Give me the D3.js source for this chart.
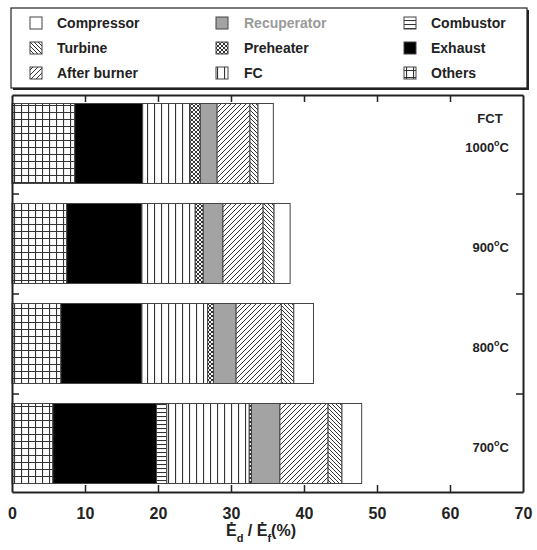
<!DOCTYPE html>
<html>
<head>
<meta charset="utf-8">
<script src="https://cdn.jsdelivr.net/npm/d3@7"></script>
<style>
  body { margin: 0; background: #fff; }
  svg { font-family: "Liberation Sans", Arial, sans-serif; font-weight: bold; }
</style>
</head>
<body>
<svg id="chart" width="537" height="550"></svg>
<script>
// temperatures (FCT), top to bottom
var temps = ["1000", "900", "800", "700"];
// components, left to right in each bar
var parts = ["Others", "Exhaust", "Combustor", "FC", "Preheater", "Recuperator", "After burner", "Turbine", "Compressor"];
// exergy destruction share, % of fuel exergy, one array per component (order of temps)
var others      = [8.6, 7.5, 6.7, 5.6];
var exhaust     = [9.3, 10.3, 11.1, 14.2];
var combustor   = [0.0, 0.0, 0.0, 1.4];
var fc          = [6.5, 7.3, 9.0, 11.3];
var preheater   = [1.4, 1.1, 0.8, 0.3];
var recuperator = [2.3, 2.7, 3.1, 3.9];
var afterburner = [4.5, 5.5, 6.2, 6.6];
var turbine     = [1.1, 1.5, 1.7, 1.9];
var compressor  = [2.1, 2.2, 2.7, 2.7];
var xTicks = [0, 10, 20, 30, 40, 50, 60, 70];

// legend order (reading across rows)
var legendItems = [
    ["Compressor", "Recuperator", "Combustor"],
    ["Turbine", "Preheater", "Exhaust"],
    ["After burner", "FC", "Others"]
];

var series = [others, exhaust, combustor, fc, preheater, recuperator, afterburner, turbine, compressor];
var table = temps.map(function (t, i) {
    var row = { temp: t };
    parts.forEach(function (p, j) { row[p] = series[j][i]; });
    return row;
});

var svg = d3.select("#chart");
var ink = "#222";

// fill patterns
var defs = svg.append("defs");
function pattern(id, size, path, width) {
    var p = defs.append("pattern")
        .attr("id", id)
        .attr("patternUnits", "userSpaceOnUse")
        .attr("width", size).attr("height", size);
    p.append("rect").attr("width", size).attr("height", size).attr("fill", "#fff");
    p.append("path").attr("d", path).attr("stroke", "#333").attr("stroke-width", width || 1).attr("fill", "none");
}
pattern("p-grid", 7, "M0,0.5H7M0.5,0V7", 1.2);
pattern("p-hlines", 4, "M0,0.5H4", 1.1);
pattern("p-vlines", 7, "M0.5,0V7", 1.2);
pattern("p-check", 4, "M0,0L4,4M4,0L0,4", 1);
pattern("p-fwd", 5, "M0,5L5,0M-1,1L1,-1M4,6L6,4", 1);
pattern("p-back", 4, "M0,0L4,4M-1,3L1,5M3,-1L5,1", 1);

var fills = {
    "Others": "url(#p-grid)",
    "Exhaust": "#000",
    "Combustor": "url(#p-hlines)",
    "FC": "url(#p-vlines)",
    "Preheater": "url(#p-check)",
    "Recuperator": "#a3a3a3",
    "After burner": "url(#p-fwd)",
    "Turbine": "url(#p-back)",
    "Compressor": "#fff"
};

// plot area
var pLeft = 12, pRight = 523, pTop = 95, pBottom = 492;

var x = d3.scaleLinear().domain([0, 70]).range([pLeft, pRight]);
var y = d3.scaleBand().domain(temps).range([pTop, pBottom])
    .paddingInner(0.2).paddingOuter(0.085);

var stack = d3.stack().keys(parts)(table);

svg.append("g").selectAll("g")
    .data(stack)
    .join("g")
    .attr("fill", function (d) { return fills[d.key]; })
    .selectAll("rect")
    .data(function (d) { return d; })
    .join("rect")
    .attr("x", function (d) { return x(d[0]); })
    .attr("y", function (d) { return y(d.data.temp); })
    .attr("width", function (d) { return x(d[1]) - x(d[0]); })
    .attr("height", y.bandwidth())
    .attr("stroke", "#444")
    .attr("stroke-width", 1);

// frame and ticks
var bAxis = svg.append("g").attr("transform", "translate(0," + pBottom + ")")
    .call(d3.axisBottom(x).tickValues(xTicks).tickSizeInner(-7).tickSizeOuter(0).tickPadding(16));
var tAxis = svg.append("g").attr("transform", "translate(0," + pTop + ")")
    .call(d3.axisTop(x).tickValues(xTicks).tickSizeInner(-7).tickSizeOuter(0).tickFormat(""));

// band boundaries get the side ticks
var bounds = temps.slice(1).map(function (t) { return y(t) - y.step() * y.paddingInner() / 2; });
var yEdge = d3.scaleLinear().domain([pTop, pBottom]).range([pTop, pBottom]);
var lAxis = svg.append("g").attr("transform", "translate(" + pLeft + ",0)")
    .call(d3.axisLeft(yEdge).tickValues(bounds).tickSizeInner(-7).tickSizeOuter(0).tickFormat(""));
var rAxis = svg.append("g").attr("transform", "translate(" + pRight + ",0)")
    .call(d3.axisRight(yEdge).tickValues(bounds).tickSizeInner(-7).tickSizeOuter(0).tickFormat(""));

[bAxis, tAxis, lAxis, rAxis].forEach(function (a) {
    a.select(".domain").attr("stroke", ink).attr("stroke-width", 2);
    a.selectAll(".tick line").attr("stroke", ink).attr("stroke-width", 1.5);
});
bAxis.selectAll(".tick line").filter(function (d) { return d === 0 || d === 70; }).remove();
tAxis.selectAll(".tick line").filter(function (d) { return d === 0 || d === 70; }).remove();
bAxis.selectAll(".tick text")
    .attr("fill", ink)
    .style("font-size", "16px")
    .style("font-weight", "bold")
    .style("font-family", "'Liberation Sans', Arial, sans-serif");

// x axis title: E-dot_d / E-dot_f (%)
var title = svg.append("text")
    .attr("x", 261).attr("y", 536)
    .attr("text-anchor", "middle")
    .attr("fill", ink)
    .style("font-size", "16px");
title.append("tspan").text("\u0116");
title.append("tspan").attr("dy", 6).style("font-size", "11px").text("d");
title.append("tspan").attr("dy", -6).text(" / \u0116");
title.append("tspan").attr("dy", 6).style("font-size", "11px").text("f");
title.append("tspan").attr("dy", -6).text("(%)");

// temperature labels on the right
svg.append("text")
    .attr("x", 490).attr("y", 123)
    .attr("text-anchor", "middle")
    .attr("fill", ink)
    .style("font-size", "13px")
    .text("FCT");

var labels = svg.append("g").selectAll("text")
    .data(temps)
    .join("text")
    .attr("x", 509)
    .attr("y", function (d) { return y(d) + y.bandwidth() / 2 + 8; })
    .attr("text-anchor", "end")
    .attr("fill", ink)
    .style("font-size", "13px");
labels.append("tspan").text(function (d) { return d; });
labels.append("tspan").attr("dy", -6).style("font-size", "9px").text("o");
labels.append("tspan").attr("dy", 6).text("C");

// legend box with drop shadow
var lg = svg.append("g");
lg.append("rect").attr("x", 13).attr("y", 10).attr("width", 516).attr("height", 80).attr("fill", ink);
lg.append("rect").attr("x", 11).attr("y", 8).attr("width", 516).attr("height", 80)
    .attr("fill", "#fff").attr("stroke", ink).attr("stroke-width", 1.2);

var colSym = [30, 216, 404];
var colText = [57, 244, 431];
var rowY = [23, 48, 73];

legendItems.forEach(function (row, r) {
    row.forEach(function (name, c) {
        lg.append("rect")
            .attr("x", colSym[c]).attr("y", rowY[r] - 6)
            .attr("width", 12).attr("height", 12)
            .attr("fill", fills[name])
            .attr("stroke", "#444").attr("stroke-width", 1);
        lg.append("text")
            .attr("x", colText[c]).attr("y", rowY[r] + 5)
            .attr("fill", name === "Recuperator" ? "#9a9a9a" : ink)
            .style("font-size", "14px")
            .text(name);
    });
});
</script>
</body>
</html>
